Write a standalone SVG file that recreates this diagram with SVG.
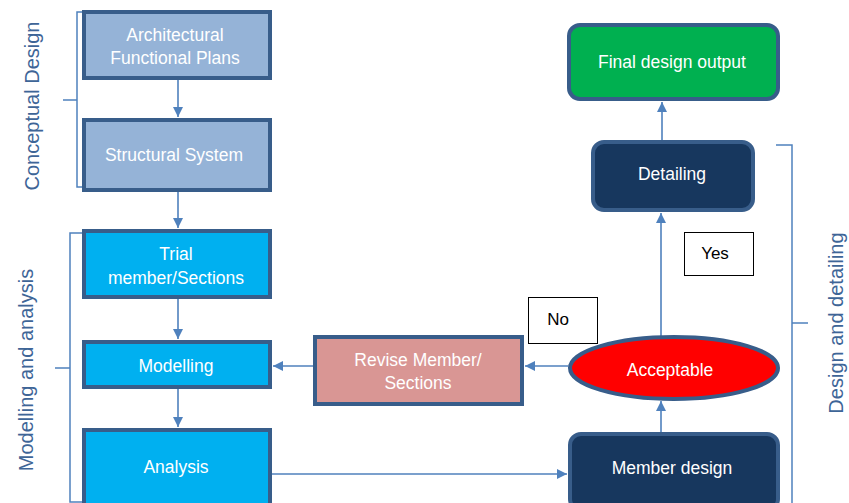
<svg xmlns="http://www.w3.org/2000/svg" width="849" height="503" viewBox="0 0 849 503">
  <style>
    .box { stroke: #385D8A; stroke-width: 4; }
    .lbl { font-family: "Liberation Sans", Arial, sans-serif; font-size: 17.5px; fill: #FFFFFF; text-anchor: middle; }
    .tag { font-family: "Liberation Sans", Arial, sans-serif; font-size: 17px; fill: #000000; text-anchor: middle; }
    .side { font-family: "Liberation Sans", Arial, sans-serif; font-size: 20px; fill: #3E6597; text-anchor: middle; }
    .conn { stroke: #4F81BD; stroke-width: 1.6; fill: none; }
    .brace { stroke: #4F81BD; stroke-width: 1.5; fill: none; }
  </style>
  <defs>
    <marker id="arrow" viewBox="0 0 10 10" refX="10" refY="5" markerWidth="10" markerHeight="10" markerUnits="userSpaceOnUse" orient="auto">
      <path d="M0,0 L10,5 L0,10 Z" fill="#4F81BD"/>
    </marker>
  </defs>
  <rect width="849" height="503" fill="#FFFFFF"/>

  <!-- phase brackets and their labels -->
  <g id="phase-conceptual">
    <path class="brace" d="M86,12 H77 V187 H86 M77,100 H63"/>
    <text class="side" transform="translate(39,106) rotate(-90)">Conceptual Design</text>
  </g>
  <g id="phase-modelling">
    <path class="brace" d="M82,233 H70 V502 H82 M70,368 H55"/>
    <text class="side" transform="translate(33,370) rotate(-90)">Modelling and analysis</text>
  </g>
  <g id="phase-design">
    <path class="brace" d="M776,145 H792 V503 M792,323 H808"/>
    <text class="side" transform="translate(843,323) rotate(-90)">Design and detailing</text>
  </g>

  <!-- connectors -->
  <g id="connectors">
    <line class="conn" x1="178" y1="80" x2="178" y2="117" marker-end="url(#arrow)"/>
    <line class="conn" x1="178" y1="191" x2="178" y2="228" marker-end="url(#arrow)"/>
    <line class="conn" x1="178" y1="299" x2="178" y2="339" marker-end="url(#arrow)"/>
    <line class="conn" x1="178" y1="388" x2="178" y2="427" marker-end="url(#arrow)"/>
    <line class="conn" x1="272" y1="474" x2="567" y2="474" marker-end="url(#arrow)"/>
    <line class="conn" x1="661" y1="432" x2="661" y2="401" marker-end="url(#arrow)"/>
    <line class="conn" x1="568" y1="366" x2="525" y2="366" marker-end="url(#arrow)"/>
    <line class="conn" x1="313" y1="366" x2="273" y2="366" marker-end="url(#arrow)"/>
    <line class="conn" x1="661" y1="336" x2="661" y2="213" marker-end="url(#arrow)"/>
    <line class="conn" x1="662" y1="140" x2="662" y2="102" marker-end="url(#arrow)"/>
  </g>

  <!-- nodes -->
  <g id="architectural-plans">
    <rect class="box" x="84" y="12" width="186" height="66" fill="#95B3D7"/>
    <text class="lbl" x="175" y="41">Architectural</text>
    <text class="lbl" x="175" y="64">Functional Plans</text>
  </g>
  <g id="structural-system">
    <rect class="box" x="84" y="120" width="186" height="70" fill="#95B3D7"/>
    <text class="lbl" x="174" y="161">Structural System</text>
  </g>
  <g id="trial-sections">
    <rect class="box" x="84" y="231" width="186" height="66" fill="#00B0F0"/>
    <text class="lbl" x="176" y="260">Trial</text>
    <text class="lbl" x="176" y="284">member/Sections</text>
  </g>
  <g id="modelling">
    <rect class="box" x="84" y="342" width="186" height="45" fill="#00B0F0"/>
    <text class="lbl" x="176" y="372">Modelling</text>
  </g>
  <g id="analysis">
    <rect class="box" x="84" y="430" width="186" height="76" fill="#00B0F0"/>
    <text class="lbl" x="176" y="473">Analysis</text>
  </g>
  <g id="revise-sections">
    <rect class="box" x="315" y="337" width="207" height="67" fill="#D99694"/>
    <text class="lbl" x="418" y="366">Revise Member/</text>
    <text class="lbl" x="418" y="389">Sections</text>
  </g>
  <g id="member-design">
    <rect class="box" x="570" y="434" width="208" height="76" rx="11" fill="#17375E"/>
    <text class="lbl" x="672" y="474">Member design</text>
  </g>
  <g id="acceptable">
    <ellipse class="box" cx="674" cy="368" rx="104" ry="31" fill="#FF0000"/>
    <text class="lbl" x="670" y="376">Acceptable</text>
  </g>
  <g id="detailing">
    <rect class="box" x="593" y="142" width="160" height="68" rx="11" fill="#17375E"/>
    <text class="lbl" x="672" y="180">Detailing</text>
  </g>
  <g id="final-output">
    <rect class="box" x="569" y="25" width="209" height="74" rx="11" fill="#00B050"/>
    <text class="lbl" x="672" y="68">Final design output</text>
  </g>
  <g id="label-no">
    <rect x="528.5" y="297.5" width="69" height="46" fill="#FFFFFF" stroke="#000000" stroke-width="1"/>
    <text class="tag" x="558" y="325">No</text>
  </g>
  <g id="label-yes">
    <rect x="684.5" y="232.5" width="69" height="43" fill="#FFFFFF" stroke="#000000" stroke-width="1"/>
    <text class="tag" x="715" y="259">Yes</text>
  </g>
</svg>
